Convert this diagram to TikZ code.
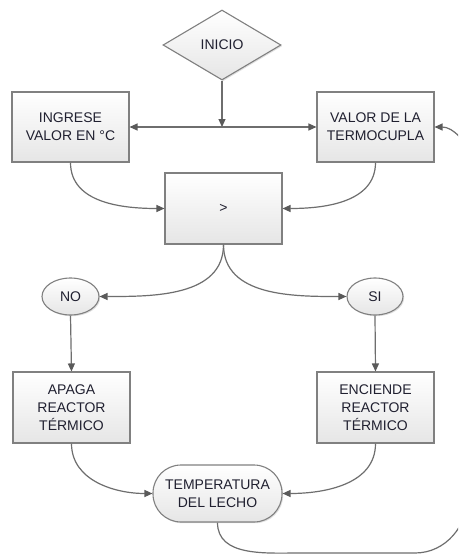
\documentclass[tikz,border=0pt]{standalone}
\usepackage{fontspec}
\setmainfont{Liberation Sans}
\usetikzlibrary{shapes.geometric,arrows.meta,shadows}
\definecolor{edgegray}{HTML}{6E6E6E}
\definecolor{bordergray}{HTML}{808080}
\definecolor{tipgray}{HTML}{5A5A5A}
\definecolor{txt}{HTML}{202030}
\begin{document}
\begin{tikzpicture}[x=1pt,y=-1pt,
  every node/.style={font=\fontsize{14}{18}\selectfont, text=txt, align=center},
  shapebase/.style={draw=bordergray, line width=1.1pt, top color=white, bottom color=black!10,
    drop shadow={shadow xshift=1.2pt, shadow yshift=-1.2pt, opacity=0.25}},
  procbox/.style={shapebase, rectangle, minimum width=117pt, minimum height=70pt, inner sep=2pt},
  decbox/.style={shapebase, diamond, minimum width=118pt, minimum height=70pt, inner sep=0pt},
  oval/.style={shapebase, ellipse, minimum width=57pt, minimum height=37pt, inner sep=0pt},
  termbox/.style={shapebase, rectangle, rounded corners=28pt, minimum width=129pt, minimum height=57pt, inner sep=0pt},
  conn/.style={draw=edgegray, line width=1.2pt},
  arr/.style={conn, -{Triangle[length=8pt,width=7pt,color=tipgray]}}
]
\path[use as bounding box, clip] (0,0) rectangle (458,554);
\fill[white] (0,0) rectangle (458,554);

\node[decbox] (inicio) at (222,45) {INICIO};
\node[procbox] (ingrese) at (70.5,127) {INGRESE\\VALOR EN °C};
\node[procbox] (valor) at (375.5,127) {VALOR DE LA\\TERMOCUPLA};
\node[procbox, minimum height=71pt] (cmp) at (223.5,208.5) {>};
\node[oval] (no) at (70.5,296.5) {NO};
\node[oval, minimum width=56pt] (si) at (375,296.5) {SI};
\node[procbox, minimum height=71pt] (apaga) at (71.5,407.5) {APAGA\\REACTOR\\TÉRMICO};
\node[procbox, minimum height=71pt] (enciende) at (375.5,407.5) {ENCIENDE\\REACTOR\\TÉRMICO};
\node[termbox] (temp) at (217.5,493.5) {TEMPERATURA\\DEL LECHO};

\coordinate (junc) at (222,127);
\coordinate (fb1) at (300,553);
\coordinate (fb2) at (415,553);
\coordinate (fb3) at (468,495);
\coordinate (fb4) at (468,160);

\draw[arr] (inicio.south) -- (junc);
\draw[arr] (junc) -- (ingrese.east);
\draw[arr] (junc) -- (valor.west);
\draw[arr] (ingrese.south) to[out=-90,in=180] (cmp.west);
\draw[arr] (valor.south) to[out=-90,in=0] (cmp.east);
\draw[arr] (cmp.south) to[out=-90,in=0] (no.east);
\draw[arr] (cmp.south) to[out=-90,in=180] (si.west);
\draw[arr] (no.south) -- (apaga.north);
\draw[arr] (si.south) -- (enciende.north);
\draw[arr] (apaga.south) to[out=-90,in=180] (temp.west);
\draw[arr] (enciende.south) to[out=-90,in=0] (temp.east);
\draw[arr] (temp.south) to[out=-90,in=180] (fb1) -- (fb2) to[out=0,in=-90] (fb3) -- (fb4) to[out=90,in=0] (valor.east);
\end{tikzpicture}
\end{document}
